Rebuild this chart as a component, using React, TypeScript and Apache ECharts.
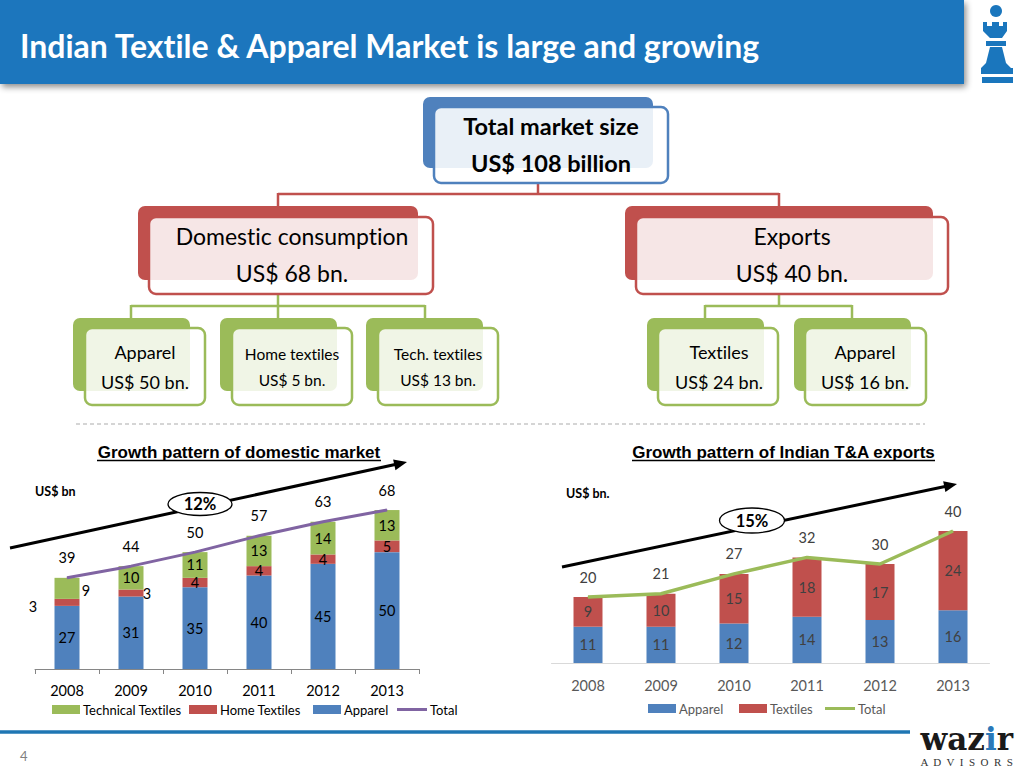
import React, { useEffect, useRef } from 'react';
import * as echarts from 'echarts';

// ---------- data ----------
const years = ['2008', '2009', '2010', '2011', '2012', '2013'];
const domApparel = [27, 31, 35, 40, 45, 50];
const domHome = [3, 3, 4, 4, 4, 5];
const domTechnical = [9, 10, 11, 13, 14, 13];
const domTotal = [39, 44, 50, 57, 63, 68];
const expApparel = [11, 11, 12, 14, 13, 16];
const expTextiles = [9, 10, 15, 18, 17, 24];
const expTotal = [20, 21, 27, 32, 30, 40];

// ---------- styling ----------
const FONT = 'Lato, "Open Sans", sans-serif';
const ARIAL = '"Liberation Sans", Arial, sans-serif';
const SERIF = '"Liberation Serif", "DejaVu Serif", serif';
const DSERIF = '"DejaVu Serif", "Liberation Serif", serif';
const BLUE = '#4F81BD';
const RED = '#C0504D';
const GREEN = '#9BBB59';
const PURPLE = '#8064A2';
const HEADER = '#1a76bd';

// manual label nudges (as in the original slide)
const homeLabelOffset: Record<number, number[]> = { 0: [-34, 4], 1: [16, 0] };
const techLabelOffset: Record<number, number[]> = { 0: [19, 2] };

const withOffsets = (arr: number[], offs: Record<number, number[]>) =>
  arr.map((v, i) => (offs[i] ? { value: v, label: { offset: offs[i] } } : v));

const txt = (text: string, x: number, y: number, size: number, extra: any = {}) => ({
  type: 'text',
  x,
  y,
  z: 60,
  style: {
    text,
    fontSize: size,
    fontFamily: FONT,
    fill: '#000',
    align: 'center',
    verticalAlign: 'middle',
    textAlign: 'center',
    textVerticalAlign: 'middle',
    ...extra,
  },
});

const rect = (x: number, y: number, w: number, h: number, style: any, r = 8, z = 40) => ({
  type: 'rect',
  z,
  shape: { x, y, width: w, height: h, r },
  style,
});

const line = (x1: number, y1: number, x2: number, y2: number, stroke: string, lineWidth: number, extra: any = {}, z = 40) => ({
  type: 'line',
  z,
  shape: { x1, y1, x2, y2 },
  style: { stroke, lineWidth, ...extra },
});

const orgBox = (back: number[], front: number[], color: string, alpha = 0.86) => [
  rect(back[0], back[1], back[2] - back[0], back[3] - back[1], { fill: color }, 7, 40),
  rect(front[0], front[1], front[2] - front[0], front[3] - front[1], {
    fill: `rgba(255,255,255,${alpha})`,
    stroke: color,
    lineWidth: 2.5,
  }, 7, 41),
];

const arrow = (x1: number, y1: number, x2: number, y2: number) => {
  const dx = x2 - x1;
  const dy = y2 - y1;
  const len = Math.sqrt(dx * dx + dy * dy);
  const ux = dx / len;
  const uy = dy / len;
  const hl = 13;
  const hw = 5.5;
  const bx = x2 - ux * hl;
  const by = y2 - uy * hl;
  return [
    line(x1, y1, bx + ux * 2, by + uy * 2, '#000', 3, {}, 100),
    {
      type: 'polygon',
      z: 100,
      shape: {
        points: [
          [x2, y2],
          [bx - uy * hw, by + ux * hw],
          [bx + uy * hw, by - ux * hw],
        ],
      },
      style: { fill: '#000' },
    },
  ];
};

const legendItem = (
  name: string,
  left: number,
  top: number,
  color: string,
  textColor: string,
  isLine = false,
) => ({
  left,
  top,
  orient: 'horizontal',
  selectedMode: false,
  itemWidth: isLine ? 30 : 28,
  itemHeight: isLine ? 3 : 9,
  itemGap: 4,
  padding: 0,
  textStyle: { fontSize: 13, color: textColor, fontFamily: FONT, padding: [0, 0, 0, -2] },
  data: [{ name, icon: 'rect', itemStyle: { color } }],
});

function buildOption(): any {
  const graphics: any[] = [];

  // header bar
  graphics.push({
    type: 'rect',
    z: 30,
    shape: { x: 0, y: 0, width: 964, height: 84 },
    style: {
      fill: HEADER,
      shadowBlur: 6,
      shadowColor: 'rgba(0,0,0,0.45)',
      shadowOffsetX: 2,
      shadowOffsetY: 3,
    },
  });
  graphics.push(
    txt('Indian Textile & Apparel Market is large and growing', 20, 45, 32, {
      fill: '#fff',
      fontWeight: 'bold',
      align: 'left',
      textAlign: 'left',
    }),
  );

  // rook logo
  graphics.push({ type: 'circle', z: 40, shape: { cx: 996, cy: 11, r: 6 }, style: { fill: HEADER } });
  graphics.push({
    type: 'polygon',
    z: 40,
    shape: {
      points: [
        [983, 22], [987, 22], [987, 26], [992, 26], [992, 22], [999, 22], [999, 26],
        [1003, 26], [1003, 22], [1007, 22], [1007, 31], [1002, 38], [990, 38], [983, 31],
      ],
    },
    style: { fill: HEADER },
  });
  graphics.push(rect(986, 41, 20, 5, { fill: HEADER }, 0));
  graphics.push({
    type: 'polygon',
    z: 40,
    shape: { points: [[990, 47], [1002, 47], [1006, 63], [1011, 68], [981, 68], [986, 63]] },
    style: { fill: HEADER },
  });
  graphics.push(rect(981, 68, 32, 6, { fill: HEADER }, 0));
  graphics.push(rect(982, 77, 31, 6, { fill: HEADER }, 0));

  // org chart: connectors
  graphics.push(line(538, 183, 538, 194, RED, 2.5));
  graphics.push(line(278, 194, 779, 194, RED, 2.5));
  graphics.push(line(278, 193, 278, 207, RED, 2.5));
  graphics.push(line(779, 193, 779, 207, RED, 2.5));

  graphics.push(line(278, 294, 278, 306, GREEN, 2.5));
  graphics.push(line(131, 306, 425, 306, GREEN, 2.5));
  graphics.push(line(131, 305, 131, 318, GREEN, 2.5));
  graphics.push(line(278, 305, 278, 318, GREEN, 2.5));
  graphics.push(line(425, 305, 425, 318, GREEN, 2.5));
  graphics.push(line(779, 294, 779, 306, GREEN, 2.5));
  graphics.push(line(705, 306, 852, 306, GREEN, 2.5));
  graphics.push(line(705, 305, 705, 318, GREEN, 2.5));
  graphics.push(line(852, 305, 852, 318, GREEN, 2.5));

  // org chart: boxes
  graphics.push(...orgBox([423, 97, 653, 168], [434, 107, 668, 183], BLUE, 0.88));
  graphics.push(...orgBox([138, 206, 418, 280], [149, 217, 433, 294], RED, 0.86));
  graphics.push(...orgBox([625, 206, 933, 280], [636, 217, 948, 294], RED, 0.86));
  graphics.push(...orgBox([73, 318, 190, 391], [85, 328, 205, 405], GREEN, 0.85));
  graphics.push(...orgBox([220, 318, 337, 391], [232, 328, 352, 405], GREEN, 0.85));
  graphics.push(...orgBox([366, 318, 483, 391], [378, 328, 498, 405], GREEN, 0.85));
  graphics.push(...orgBox([647, 318, 764, 391], [658, 328, 778, 405], GREEN, 0.85));
  graphics.push(...orgBox([794, 318, 911, 391], [805, 328, 926, 405], GREEN, 0.85));

  // org chart: texts
  graphics.push(txt('Total market size', 551, 126, 23.5, { fontWeight: 'bold' }));
  graphics.push(txt('US$ 108 billion', 551, 163, 23.5, { fontWeight: 'bold' }));
  graphics.push(txt('Domestic consumption', 292, 236, 23));
  graphics.push(txt('US$ 68 bn.', 292, 273, 23));
  graphics.push(txt('Exports', 792, 236, 23));
  graphics.push(txt('US$ 40 bn.', 792, 273, 23));
  graphics.push(txt('Apparel', 145, 352, 18));
  graphics.push(txt('US$ 50 bn.', 145, 382, 18));
  graphics.push(txt('Home textiles', 292, 354, 15.5));
  graphics.push(txt('US$ 5 bn.', 292, 380, 15.5));
  graphics.push(txt('Tech. textiles', 438, 354, 15.5));
  graphics.push(txt('US$ 13 bn.', 438, 380, 15.5));
  graphics.push(txt('Textiles', 719, 352, 18));
  graphics.push(txt('US$ 24 bn.', 719, 382, 18));
  graphics.push(txt('Apparel', 865, 352, 18));
  graphics.push(txt('US$ 16 bn.', 865, 382, 18));

  // separator
  graphics.push(line(76, 424, 925, 424, '#C8C8C8', 1.5, { lineDash: [4, 3] }));

  // chart titles
  graphics.push(txt('Growth pattern of domestic market', 239, 452, 17, { fontFamily: ARIAL, fontWeight: 'bold' }));
  graphics.push(line(97, 460.5, 381, 460.5, '#000', 1.3));
  graphics.push(txt('Growth pattern of Indian T&A exports', 783.5, 452, 17, { fontFamily: ARIAL, fontWeight: 'bold' }));
  graphics.push(line(632, 460.5, 935, 460.5, '#000', 1.3));

  // units
  graphics.push(txt('US$ bn', 35, 491, 12.5, { fontWeight: 'bold', align: 'left', textAlign: 'left' }));
  graphics.push(txt('US$ bn.', 566, 493, 12.5, { fontWeight: 'bold', align: 'left', textAlign: 'left' }));

  // growth arrows + CAGR bubbles
  graphics.push(...arrow(10, 548, 407, 462));
  graphics.push(...arrow(562, 567, 957, 484));
  graphics.push({
    type: 'ellipse', z: 110, shape: { cx: 200, cy: 504, rx: 32, ry: 11.5 },
    style: { fill: '#fff', stroke: '#000', lineWidth: 1.3 },
  });
  graphics.push({ ...txt('12%', 200, 504, 16.5, { fontWeight: 'bold' }), z: 120 });
  graphics.push({
    type: 'ellipse', z: 110, shape: { cx: 752, cy: 520.5, rx: 32.5, ry: 12.5 },
    style: { fill: '#fff', stroke: '#000', lineWidth: 1.3 },
  });
  graphics.push({ ...txt('15%', 752, 520.5, 16.5, { fontWeight: 'bold' }), z: 120 });

  // footer
  graphics.push(line(0, 732, 910, 732, '#1f76b3', 3.5));
  graphics.push(txt('4', 20, 756, 13, { fill: '#7f7f7f', align: 'left', textAlign: 'left' }));
  graphics.push({
    type: 'text',
    x: 1013,
    y: 739,
    z: 60,
    style: {
      text: '{a|waz}{b|i}{a|r}',
      align: 'right',
      textAlign: 'right',
      verticalAlign: 'middle',
      textVerticalAlign: 'middle',
      rich: {
        a: { fontFamily: DSERIF, fontSize: 31, fontWeight: 'bold', fill: '#1a1a1a', color: '#1a1a1a' },
        b: { fontFamily: DSERIF, fontSize: 31, fontWeight: 'bold', fill: '#2a78b8', color: '#2a78b8' },
      },
    },
  });
  graphics.push(
    txt('A  D  V  I  S  O  R  S', 1013, 762, 11, {
      fontFamily: SERIF,
      fill: '#333',
      align: 'right',
      textAlign: 'right',
    }),
  );

  return {
    animation: false,
    backgroundColor: '#fff',
    textStyle: { fontFamily: FONT },
    grid: [
      { left: 35, top: 482, width: 384, height: 187 },
      { left: 551.5, top: 498, width: 438, height: 165 },
    ],
    xAxis: [
      {
        type: 'category',
        gridIndex: 0,
        data: years,
        axisLine: { lineStyle: { color: '#868686', width: 1 } },
        axisTick: { show: true, length: 5, lineStyle: { color: '#868686' } },
        axisLabel: { fontSize: 14.5, color: '#000', fontFamily: FONT, margin: 14 },
      },
      {
        type: 'category',
        gridIndex: 1,
        data: years,
        axisLine: { lineStyle: { color: '#D9D9D9', width: 1 } },
        axisTick: { show: false },
        axisLabel: { fontSize: 14.5, color: '#595959', fontFamily: FONT, margin: 15 },
      },
    ],
    yAxis: [
      { type: 'value', gridIndex: 0, min: 0, max: 80, show: false },
      { type: 'value', gridIndex: 1, min: 0, max: 50, show: false },
    ],
    legend: [
      legendItem('Technical Textiles', 52, 703, GREEN, '#000'),
      legendItem('Home Textiles', 189, 703, RED, '#000'),
      legendItem('Apparel', 313, 703, BLUE, '#000'),
      legendItem('Total', 397, 703, PURPLE, '#000', true),
      legendItem('Apparel', 648, 702, BLUE, '#595959'),
      legendItem('Textiles', 739, 702, RED, '#595959'),
      legendItem('Total', 825, 702, GREEN, '#595959', true),
    ],
    series: [
      {
        name: 'Apparel',
        type: 'bar',
        xAxisIndex: 0,
        yAxisIndex: 0,
        stack: 'dom',
        barWidth: 25,
        data: domApparel,
        itemStyle: { color: BLUE },
        label: { show: true, position: 'inside', color: '#000', fontSize: 14.5, fontFamily: FONT },
      },
      {
        name: 'Home Textiles',
        type: 'bar',
        xAxisIndex: 0,
        yAxisIndex: 0,
        stack: 'dom',
        barWidth: 25,
        data: withOffsets(domHome, homeLabelOffset),
        itemStyle: { color: RED },
        label: { show: true, position: 'inside', color: '#000', fontSize: 14.5, fontFamily: FONT },
      },
      {
        name: 'Technical Textiles',
        type: 'bar',
        xAxisIndex: 0,
        yAxisIndex: 0,
        stack: 'dom',
        barWidth: 25,
        data: withOffsets(domTechnical, techLabelOffset),
        itemStyle: { color: GREEN },
        label: { show: true, position: 'inside', color: '#000', fontSize: 14.5, fontFamily: FONT },
      },
      {
        name: 'Total',
        type: 'line',
        xAxisIndex: 0,
        yAxisIndex: 0,
        data: domTotal,
        symbol: 'circle',
        symbolSize: 1,
        itemStyle: { color: PURPLE },
        lineStyle: { color: PURPLE, width: 3 },
        label: { show: true, position: 'top', distance: 12, color: '#000', fontSize: 14.5, fontFamily: FONT },
        z: 5,
      },
      {
        name: 'Apparel',
        type: 'bar',
        xAxisIndex: 1,
        yAxisIndex: 1,
        stack: 'exp',
        barWidth: 29,
        data: expApparel,
        itemStyle: { color: BLUE },
        label: { show: true, position: 'inside', color: '#404040', fontSize: 14.5, fontFamily: FONT },
      },
      {
        name: 'Textiles',
        type: 'bar',
        xAxisIndex: 1,
        yAxisIndex: 1,
        stack: 'exp',
        barWidth: 29,
        data: expTextiles,
        itemStyle: { color: RED },
        label: { show: true, position: 'inside', color: '#404040', fontSize: 14.5, fontFamily: FONT },
      },
      {
        name: 'Total',
        type: 'line',
        xAxisIndex: 1,
        yAxisIndex: 1,
        data: expTotal,
        symbol: 'circle',
        symbolSize: 1,
        itemStyle: { color: GREEN },
        lineStyle: { color: GREEN, width: 3.5 },
        label: { show: true, position: 'top', distance: 12, color: '#404040', fontSize: 14.5, fontFamily: FONT },
        z: 5,
      },
    ],
    graphic: { elements: graphics },
  };
}

export default function App() {
  const ref = useRef<HTMLDivElement>(null);
  useEffect(() => {
    if (!ref.current) return;
    const chart = echarts.init(ref.current, undefined, { renderer: 'svg' });
    chart.setOption(buildOption());
    return () => chart.dispose();
  }, []);
  return (
    <>
      <style>{`svg text, svg tspan { font-variant-ligatures: none; font-feature-settings: "liga" 0, "clig" 0; }`}</style>
      <div
        ref={ref}
        style={{ position: 'absolute', left: 0, top: 0, width: 1024, height: 768, background: '#fff' }}
      />
    </>
  );
}
